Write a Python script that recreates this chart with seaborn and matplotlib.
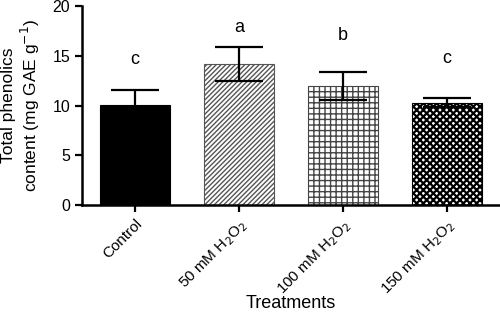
import pandas as pd
import matplotlib.pyplot as plt
import seaborn as sns

# Data
treatments = ['Control', '50 mM H$_2$O$_2$', '100 mM H$_2$O$_2$', '150 mM H$_2$O$_2$']
phenolics = [10.05, 14.2, 12.0, 10.3]
sd = [1.55, 1.7, 1.4, 0.5]
letters = ['c', 'a', 'b', 'c']
letter_y = [14.6, 17.8, 17.0, 14.7]

df = pd.DataFrame({'Treatment': treatments, 'Phenolics': phenolics})

sns.set_style('ticks', {'text.color': 'black', 'axes.labelcolor': 'black',
                        'xtick.color': 'black', 'ytick.color': 'black',
                        'axes.edgecolor': 'black'})
plt.rcParams['font.family'] = ['Liberation Sans', 'DejaVu Sans']
plt.rcParams['hatch.linewidth'] = 1.0

fig = plt.figure(figsize=(5.0, 3.14), dpi=100)
ax = fig.add_axes([0.164, 0.347, 0.836, 0.634])

sns.barplot(data=df, x='Treatment', y='Phenolics', color='white', width=0.67,
            errorbar=None, ax=ax)

styles = [('black', 'black', None, 1.0), ('white', '#555555', '///////', 1.0),
          ('white', '#444444', '+++', 1.0), ('white', 'black', 'xxxxx', 1.6)]
for bar, (fc, ec, h, lw) in zip(ax.patches, styles):
    bar.set_facecolor(fc)
    bar.set_edgecolor(ec)
    bar.set_linewidth(0.8)
    if h:
        bar.set_hatch(h)
        bar._hatch_linewidth = lw

ax.errorbar(range(len(treatments)), phenolics, yerr=sd, fmt='none',
            ecolor='black', elinewidth=1.6, capsize=17, capthick=1.6)

for i, (t, y) in enumerate(zip(letters, letter_y)):
    ax.text(i, y, t, ha='center', va='center', fontsize=13)

ax.set_ylim(0, 20)
ax.set_yticks([0, 5, 10, 15, 20])
ax.set_xlim(-0.51, 3.51)
ax.set_xlabel('Treatments', fontsize=13)
ax.xaxis.set_label_coords(0.5, -0.45)
ax.set_ylabel('Total phenolics\ncontent (mg GAE g$^{-1}$)', fontsize=12.5)
ax.yaxis.set_label_coords(-0.095, 0.5)
ax.set_xticks(range(len(treatments)))
ax.set_xticklabels(treatments, rotation=45, ha='right', rotation_mode='anchor', fontsize=11)
ax.tick_params(axis='y', labelsize=11.5, width=1.6, length=5)
ax.tick_params(axis='x', width=1.6, length=5)
for s in ['left', 'bottom']:
    ax.spines[s].set_linewidth(1.8)
sns.despine(ax=ax)

fig.savefig('out.png', dpi=100)
